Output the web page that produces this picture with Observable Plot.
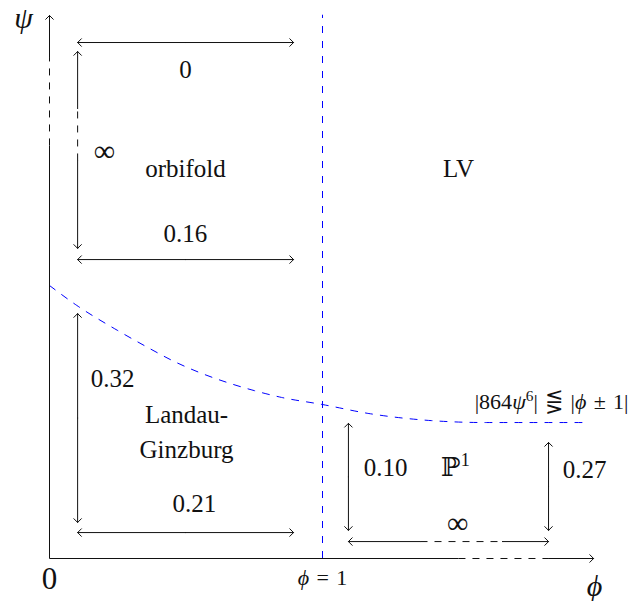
<!DOCTYPE html>
<html><head><meta charset="utf-8">
<script src="https://cdn.jsdelivr.net/npm/d3@7"></script>
<script src="https://cdn.jsdelivr.net/npm/@observablehq/plot@0.6"></script>
<style>body{margin:0;background:#fff}</style>
</head><body><div id="chart"></div>
<script>
// ---- boundary curve |864 psi^6| = |phi ± 1| ----
const curvePhi = [0, 0.10, 0.25, 0.36, 0.45, 0.55, 0.65, 0.75, 0.85, 1.00, 1.17, 1.40, 1.60, 1.97];
const curvePsi = [1.00, 0.927, 0.835, 0.773, 0.725, 0.681, 0.645, 0.615, 0.590, 0.564, 0.531, 0.505, 0.498, 0.498];
const boundaryPhi = 1;            // phi = 1 line
const boundaryPsiTop = 1.99;

// ---- axes (phi horizontal, psi vertical), with broken (dashed) parts ----
const phiAxisEnd = 1.993, phiAxisDash = [1.498, 1.828];
const psiAxisEnd = 1.989, psiAxisDash = [1.513, 1.835];

// ---- double-headed arrows ----
const hArrowPsi  = [1.890, 1.095, 0.095, 0.062];
const hArrowFrom = [0.103, 0.103, 0.103, 1.095];
const hArrowTo   = [0.894, 0.894, 0.894, 1.828];
const hArrowDash = [null, null, null, [1.359, 1.659]];

const vArrowPhi  = [0.103, 0.103, 1.095, 1.828];
const vArrowFrom = [1.136, 0.132, 0.103, 0.103];
const vArrowTo   = [1.857, 0.897, 0.495, 0.425];
const vArrowDash = [[1.458, 1.648], null, null, null];

// ---- labels ----
const regionText = ["0", "orbifold", "0.16", "LV", "0.32", "Landau-", "Ginzburg", "0.21", "0.10", "0.27"];
const regionPhi  = [0.498, 0.498, 0.498, 1.498, 0.231, 0.502, 0.502, 0.531, 1.231, 1.960];
const regionPsi  = [1.788, 1.425, 1.190, 1.425, 0.659, 0.524, 0.396, 0.198, 0.330, 0.326];

const infText = ["∞", "∞"];
const infPhi  = [0.201, 1.495];
const infPsi  = [1.491, 0.128];

const p1Label = {text: "ℙ1", phi: 1.487, psi: 0.333};
const formula = {text: "|864ψ6| ⋚ |ϕ ± 1|", phi: 2.121, psi: 0.575};
const tickLabel = {text: "ϕ = 1", phi: 1.0, psi: -0.073};
const originLabel = {text: "0", phi: 0.0, psi: -0.077};
const axisNames = ["ϕ", "ψ"];
const axisNamePhi = [1.996, -0.095];
const axisNamePsi = [-0.103, 1.978];

// ---- build segments ----
const solid = [], dashed = [], heads = [];
function seg(a, b) { return {x1: a[0], y1: a[1], x2: b[0], y2: b[1]}; }
function doubleArrow(mk, from, to, dash) {
  if (dash) {
    heads.push(seg(mk(dash[0]), mk(from)));
    heads.push(seg(mk(dash[1]), mk(to)));
    dashed.push(seg(mk(dash[0]), mk(dash[1])));
  } else {
    const m = (from + to) / 2;
    heads.push(seg(mk(m), mk(from)));
    heads.push(seg(mk(m), mk(to)));
  }
}
hArrowPsi.forEach((p, i) => doubleArrow(v => [v, p], hArrowFrom[i], hArrowTo[i], hArrowDash[i]));
vArrowPhi.forEach((p, i) => doubleArrow(v => [p, v], vArrowFrom[i], vArrowTo[i], vArrowDash[i]));
// axes
solid.push(seg([0, 0], [phiAxisDash[0], 0]));
dashed.push(seg([phiAxisDash[0], 0], [phiAxisDash[1], 0]));
heads.push(seg([phiAxisDash[1], 0], [phiAxisEnd, 0]));
solid.push(seg([0, 0], [0, psiAxisDash[0]]));
dashed.push(seg([0, psiAxisDash[0]], [0, psiAxisDash[1]]));
heads.push(seg([0, psiAxisDash[1]], [0, psiAxisEnd]));

const curve = curvePhi.map((p, i) => ({phi: p, psi: curvePsi[i]}));
const regions = regionText.map((t, i) => ({t, phi: regionPhi[i], psi: regionPsi[i]}));
const infs = infText.map((t, i) => ({t, phi: infPhi[i], psi: infPsi[i]}));
const names = axisNames.map((t, i) => ({t, phi: axisNamePhi[i], psi: axisNamePsi[i]}));

const serif = "'Liberation Serif', 'DejaVu Serif', serif";
const ink = "#111";

const chart = Plot.plot({
  width: 630, height: 601, margin: 0,
  style: {background: "#fff", fontFamily: serif, overflow: "visible"},
  x: {domain: [0, 2], range: [49, 595], axis: null},
  y: {domain: [0, 2], range: [558, 12], axis: null},
  marks: [
    Plot.ruleX([boundaryPhi], {y1: 0, y2: boundaryPsiTop, stroke: "#0000ff", strokeWidth: 1, strokeDasharray: "7,8"}),
    Plot.line(curve, {x: "phi", y: "psi", curve: "monotone-x", stroke: "#0000ff", strokeWidth: 1, strokeDasharray: "7,8"}),
    Plot.link(solid, {x1: "x1", y1: "y1", x2: "x2", y2: "y2", stroke: ink, strokeWidth: 1}),
    Plot.link(dashed, {x1: "x1", y1: "y1", x2: "x2", y2: "y2", stroke: ink, strokeWidth: 1, strokeDasharray: "7,7"}),
    Plot.arrow(heads, {x1: "x1", y1: "y1", x2: "x2", y2: "y2", stroke: ink, strokeWidth: 1, headAngle: 90, headLength: 8}),
    Plot.text(regions, {x: "phi", y: "psi", text: "t", fontSize: 25, fontFamily: serif, fill: ink}),
    Plot.text(infs, {x: "phi", y: "psi", text: "t", fontSize: 30, fontFamily: serif, fill: ink}),
    Plot.text([p1Label], {x: "phi", y: "psi", text: "text", fontSize: 26, fontFamily: serif, fill: ink}),
    Plot.text([formula], {x: "phi", y: "psi", text: "text", fontSize: 22, fontFamily: serif, fill: ink, textAnchor: "end"}),
    Plot.text([tickLabel], {x: "phi", y: "psi", text: "text", fontSize: 22, fontFamily: serif, fill: ink}),
    Plot.text([originLabel], {x: "phi", y: "psi", text: "text", fontSize: 31, fontFamily: serif, fill: ink}),
    Plot.text(names, {x: "phi", y: "psi", text: "t", fontSize: 30, fontFamily: serif, fontStyle: "italic", fill: ink})
  ]
});
document.getElementById("chart").appendChild(chart);

// rich text: italic greek and superscripts
const NS = "http://www.w3.org/2000/svg";
function rich(node, parts) {
  node.textContent = "";
  parts.forEach(([s, kind]) => {
    const ts = document.createElementNS(NS, "tspan");
    ts.textContent = s;
    if (kind === "i") ts.setAttribute("font-style", "italic");
    if (kind === "sup") { ts.setAttribute("font-size", "0.7em"); ts.setAttribute("baseline-shift", "super"); }
    node.appendChild(ts);
  });
}
chart.querySelectorAll("text").forEach(t => {
  const s = t.textContent;
  if (s === formula.text) rich(t, [["|864", ""], ["ψ", "i"], ["6", "sup"], ["|\u2004⋚\u2004|", ""], ["ϕ", "i"], ["\u2004±\u20041|", ""]]);
  else if (s === p1Label.text) rich(t, [["ℙ", ""], ["1", "sup"]]);
  else if (s === tickLabel.text) rich(t, [["ϕ", "i"], ["\u2004=\u20041", ""]]);
});
</script></body></html>
